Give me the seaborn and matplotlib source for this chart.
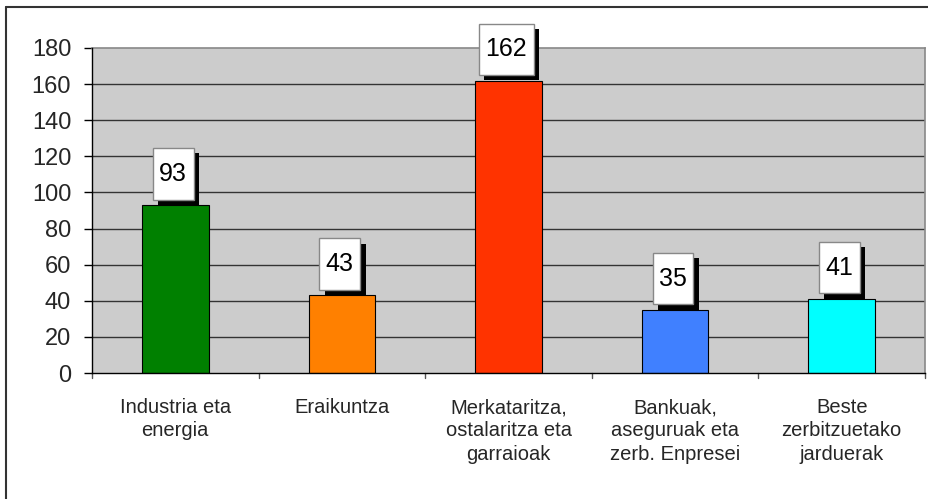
import numpy as np
import pandas as pd
import seaborn as sns
import matplotlib.pyplot as plt
from matplotlib.path import Path
from matplotlib.lines import Line2D
import matplotlib.patheffects as pe

# datos
categories = ["Industria eta\nenergia", "Eraikuntza", "Merkataritza,\nostalaritza eta\ngarraioak",
              "Bankuak,\naseguruak eta\nzerb. Enpresei", "Beste\nzerbitzuetako\njarduerak"]
values = [93, 43, 162, 35, 41]
colors = ["#008000", "#FF8000", "#FF3300", "#4080FF", "#00FFFF"]
yticks = [0, 20, 40, 60, 80, 100, 120, 140, 160, 180]

df = pd.DataFrame({"cat": categories, "val": values})

sns.set_style("white")
plt.rcParams['font.family'] = ['Liberation Sans', 'DejaVu Sans']

fig = plt.figure(figsize=(9.29, 4.99), dpi=100)
ax = fig.add_axes([92 / 929, 1 - 373 / 499, 833 / 929, 325 / 499])
ax.set_facecolor("#CCCCCC")

sns.barplot(data=df, x="cat", y="val", hue="cat", palette=colors, legend=False,
            width=0.4, edgecolor="black", linewidth=0.8, saturation=1, ax=ax, zorder=3)

ax.set_ylim(0, 180)
ax.set_xlim(-0.5, len(categories) - 0.5)
ax.set_yticks(yticks)
ax.set_yticklabels([str(t) for t in yticks], fontsize=17)
ax.set_xlabel("")
ax.set_ylabel("")
ax.tick_params(axis="x", length=0, labelsize=14.5, pad=18)
ax.tick_params(axis="y", length=6, width=1, color="black", direction="out", pad=9, left=True)
for t in ax.get_xticklabels():
    t.set_linespacing(1.3)

# lineas de la rejilla
for t in yticks[1:-1]:
    ax.axhline(t, color="#333333", lw=1, zorder=1)

# marcas entre categorias
for b in np.arange(-0.5, len(categories), 1.0):
    ax.plot([b, b], [0, -3], color="#555555", lw=1, clip_on=False, zorder=4)

for s in ["left", "bottom"]:
    ax.spines[s].set_color("black")
    ax.spines[s].set_linewidth(1)
    ax.spines[s].set_zorder(5)
for s in ["top", "right"]:
    ax.spines[s].set_color("#888888")
    ax.spines[s].set_linewidth(1.2)


def label_box(x0, y0, width, height, mutation_size):
    px = mutation_size * 0.26
    py = mutation_size * 0.55
    x0, y0 = x0 - px, y0 - py
    x1, y1 = x0 + width + 2 * px, y0 + height + 2 * py
    return Path([(x0, y0), (x1, y0), (x1, y1), (x0, y1), (x0, y0)], closed=True)


for i, v in enumerate(values):
    ax.annotate(str(v), xy=(i, v), xytext=(-1.5, 22.5), textcoords="offset points",
                ha="center", va="center", fontsize=18, color="black", zorder=7,
                bbox=dict(boxstyle=label_box, fc="white", ec="#888888", lw=1,
                          path_effects=[pe.SimplePatchShadow(offset=(3.8, -3.8), shadow_rgbFace="black",
                                                             alpha=1.0),
                                        pe.Normal()]))

# marco exterior
fig.add_artist(Line2D([6 / 929, 1], [1 - 7 / 499, 1 - 7 / 499], color="#333333", lw=1.5))
fig.add_artist(Line2D([6 / 929, 6 / 929], [0, 1 - 7 / 499], color="#333333", lw=1.5))

fig.savefig("out.png", dpi=100)
